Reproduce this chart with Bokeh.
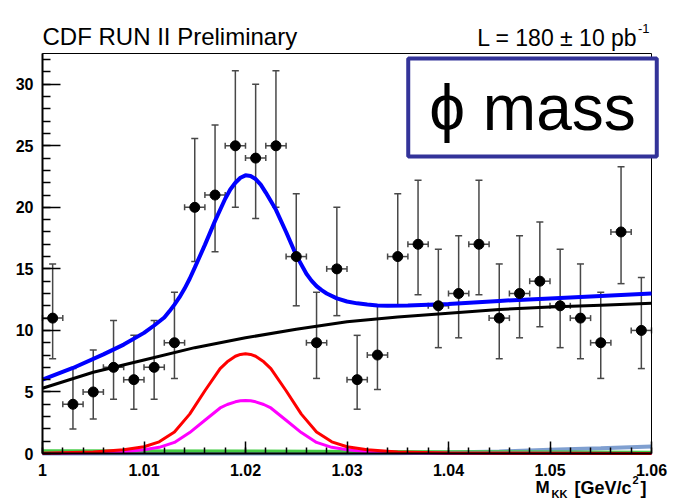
from bokeh.plotting import figure
from bokeh.models import (Label, Whisker, ColumnDataSource, SingleIntervalTicker,
                          CustomJSTickFormatter, Range1d, TeeHead, LinearAxis)
from bokeh.embed import file_html
from bokeh.resources import INLINE

# ---------------- data ----------------
x_min, x_max = 1.0, 1.06
y_min, y_max = 0.0, 32.5

mass = [1.001, 1.003, 1.005, 1.007, 1.009, 1.011, 1.013, 1.015, 1.017, 1.019,
        1.021, 1.023, 1.025, 1.027, 1.029, 1.031, 1.033, 1.035, 1.037, 1.039,
        1.041, 1.043, 1.045, 1.047, 1.049, 1.051, 1.053, 1.055, 1.057, 1.059]
bin_half_width = 0.001
counts = [11, 4, 5, 7, 6, 7, 9, 20, 21, 25, 24, 25, 16, 9, 15, 6, 8, 16, 17, 12,
          13, 17, 11, 13, 14, 12, 11, 9, 18, 10]
err_low_edge = [7.7, 2.0, 2.8, 4.4, 3.6, 4.4, 6.1, 15.6, 16.4, 20.0, 19.1, 20.0, 12.0, 6.1, 11.2,
                3.6, 5.2, 12.0, 12.9, 8.6, 9.4, 12.9, 7.7, 9.4, 10.3, 8.6, 7.7, 6.1, 13.8, 6.9]
err_high_edge = [15.4, 6.9, 8.4, 10.8, 9.6, 10.8, 13.1, 25.6, 26.7, 31.1, 30.0, 31.1, 21.1, 13.1, 20.0,
                 9.6, 12.0, 21.1, 22.2, 16.6, 17.7, 22.2, 15.4, 17.7, 18.8, 16.6, 15.4, 13.1, 23.3, 14.3]

total_x = [1.000, 1.003, 1.006, 1.008, 1.010, 1.011, 1.012, 1.0125, 1.013, 1.0135, 1.014, 1.0145,
           1.015, 1.016, 1.017, 1.018, 1.0185, 1.019, 1.0195, 1.020, 1.0205, 1.021, 1.0215,
           1.022, 1.023, 1.024, 1.025, 1.026, 1.0265, 1.027, 1.0275, 1.028, 1.029,
           1.030, 1.031, 1.032, 1.033, 1.034, 1.036, 1.040, 1.045, 1.050, 1.055, 1.060]
total_fit = [6.0, 6.95, 8.05, 8.85, 9.8, 10.4, 11.05, 11.55, 12.1, 12.7, 13.4, 14.2,
             15.1, 16.95, 18.9, 20.7, 21.45, 22.0, 22.4, 22.6, 22.55, 22.3, 21.85,
             21.2, 19.8, 18.0, 16.1, 14.6, 14.05, 13.6, 13.27, 13.0, 12.6,
             12.35, 12.2, 12.1, 12.03, 12.0, 12.02, 12.15, 12.4, 12.6, 12.8, 13.0]

bkg_x = [1.000, 1.005, 1.010, 1.015, 1.020, 1.025, 1.030, 1.035, 1.040, 1.045, 1.050, 1.055, 1.060]
bkg_fit = [5.3, 6.6, 7.6, 8.6, 9.4, 10.1, 10.7, 11.1, 11.4, 11.7, 11.9, 12.05, 12.2]

sig_x = [1.000, 1.005, 1.008, 1.010, 1.0115, 1.013, 1.0145, 1.016, 1.0175, 1.0182, 1.019, 1.0195,
         1.020, 1.0205, 1.021, 1.0218, 1.0225, 1.024, 1.0255, 1.027, 1.0285, 1.030, 1.032,
         1.035, 1.040, 1.060]
sig_red = [0.02, 0.12, 0.3, 0.55, 0.95, 1.75, 3.2, 5.1, 6.9, 7.45, 7.9, 8.05,
           8.1, 8.05, 7.9, 7.45, 6.9, 5.1, 3.2, 1.75, 0.95, 0.55, 0.3,
           0.12, 0.04, 0.0]
sig_magenta = [0.01, 0.06, 0.15, 0.3, 0.5, 0.9, 1.7, 2.7, 3.7, 3.98, 4.2, 4.28,
               4.3, 4.28, 4.2, 3.98, 3.7, 2.7, 1.7, 0.9, 0.5, 0.3, 0.15,
               0.06, 0.02, 0.0]

green_x = [1.000, 1.020, 1.040, 1.060]
green_fit = [0.22, 0.2, 0.15, 0.1]

lblue_x = [1.000, 1.030, 1.035, 1.040, 1.045, 1.050, 1.055, 1.060]
lblue_fit = [0.0, 0.0, 0.03, 0.08, 0.17, 0.3, 0.43, 0.57]

# ---------------- layout (pixel placement of the data frame) ----------------
W, H = 679, 501
FL, FR, FT, FB = 42, 651, 53, 453          # frame edges in pixels
xs = (x_max - x_min) / (FR - FL)
ys = (y_max - y_min) / (FB - FT)
xr = Range1d(x_min - FL * xs, x_min + (W - FL) * xs)
yr = Range1d(y_min - (H - FB) * ys, y_max + FT * ys)

p = figure(width=W, height=H, x_range=xr, y_range=yr,
           output_backend="svg", toolbar_location=None,
           min_border=0, min_border_left=0, min_border_right=0,
           min_border_top=0, min_border_bottom=0,
           x_axis_location=None, y_axis_location=None)
p.grid.visible = False
p.outline_line_color = None
p.background_fill_color = "white"
p.border_fill_color = "white"

FONT = "Liberation Sans"

xa = LinearAxis(fixed_location=y_min, bounds=(x_min, x_max))
ya = LinearAxis(fixed_location=x_min, bounds=(y_min, y_max))
xa.ticker = SingleIntervalTicker(interval=0.01, num_minor_ticks=5)
xa.formatter = CustomJSTickFormatter(code="return tick.toFixed(2).replace(/\\.?0+$/, '');")
xa.major_tick_in = 12
xa.major_tick_out = 0
xa.minor_tick_in = 6
xa.minor_tick_out = 0
xa.major_label_standoff = 10

ya.ticker = SingleIntervalTicker(interval=5, num_minor_ticks=5)
ya.major_tick_in = 18
ya.major_tick_out = 0
ya.minor_tick_in = 8
ya.minor_tick_out = 0
ya.major_label_standoff = 9

for ax in (xa, ya):
    ax.axis_line_width = 2
    ax.axis_line_color = "black"
    ax.major_tick_line_color = "black"
    ax.minor_tick_line_color = "black"
    ax.major_tick_line_width = 1.5
    ax.minor_tick_line_width = 1.5
    ax.major_label_text_font = FONT
    ax.major_label_text_font_style = "bold"
    ax.major_label_text_font_size = "16px"
    ax.major_label_text_color = "black"
p.add_layout(xa, "below")
p.add_layout(ya, "left")

# frame box (top/right edges)
p.quad(left=[x_min], right=[x_max], bottom=[y_min], top=[y_max],
       fill_color=None, line_color="black", line_width=1)

# ---------------- data points ----------------
src = ColumnDataSource(dict(
    x=mass, y=counts, lo=err_low_edge, hi=err_high_edge,
    xl=[m - bin_half_width for m in mass], xh=[m + bin_half_width for m in mass]))

ebar_col = "#484848"
vw = Whisker(source=src, base="x", lower="lo", upper="hi", dimension="height",
             line_color=ebar_col, line_width=1.5,
             lower_head=TeeHead(size=7, line_color=ebar_col, line_width=1.5),
             upper_head=TeeHead(size=7, line_color=ebar_col, line_width=1.5))
hw = Whisker(source=src, base="y", lower="xl", upper="xh", dimension="width",
             line_color=ebar_col, line_width=1.5,
             lower_head=TeeHead(size=6, line_color=ebar_col, line_width=1.5),
             upper_head=TeeHead(size=6, line_color=ebar_col, line_width=1.5))
p.add_layout(vw)
p.add_layout(hw)

# ---------------- curves ----------------
p.line(lblue_x, lblue_fit, line_color="#7f9fd0", line_width=4)
p.line(green_x, green_fit, line_color="#44cc44", line_width=3)
p.line(sig_x, sig_magenta, line_color="#ff00ff", line_width=3)
p.line(sig_x, sig_red, line_color="#ff0000", line_width=3)
p.line(bkg_x, bkg_fit, line_color="black", line_width=3)
p.line(total_x, total_fit, line_color="#0000ff", line_width=4)

p.scatter(x="x", y="y", source=src, size=10, color="black")

# ---------------- texts ----------------
def lab(text, X, Y, size, align="left", style="normal", baseline="alphabetic", **kw):
    l = Label(x=X, y=H - Y, x_units="screen", y_units="screen", text=text,
              text_font=FONT, text_font_size=size, text_font_style=style,
              text_align=align, text_baseline=baseline, text_color="black", **kw)
    p.add_layout(l)
    return l

lab("CDF RUN II Preliminary", 42, 36, "24px")
lab("L = 180 \u00b1 10 pb", 637, 37, "23px", align="right")
lab("-1", 649, 28, "13px", align="right")

lab("M", 535, 487, "17px", style="bold")
lab("KK", 551, 493, "11px", style="bold")
lab("[GeV/c", 574, 487, "18px", style="bold")
lab("2", 632, 479, "11px", style="bold")
lab("]", 640, 487, "18px", style="bold")

lab("\u03d5 mass", 532, 107, "64px", align="center", baseline="middle",
    background_fill_color="white", border_line_color="#333399", border_line_width=4,
    padding=dict(left=21, right=21, top=13, bottom=13))

open("out.html", "w").write(file_html(p, INLINE))
